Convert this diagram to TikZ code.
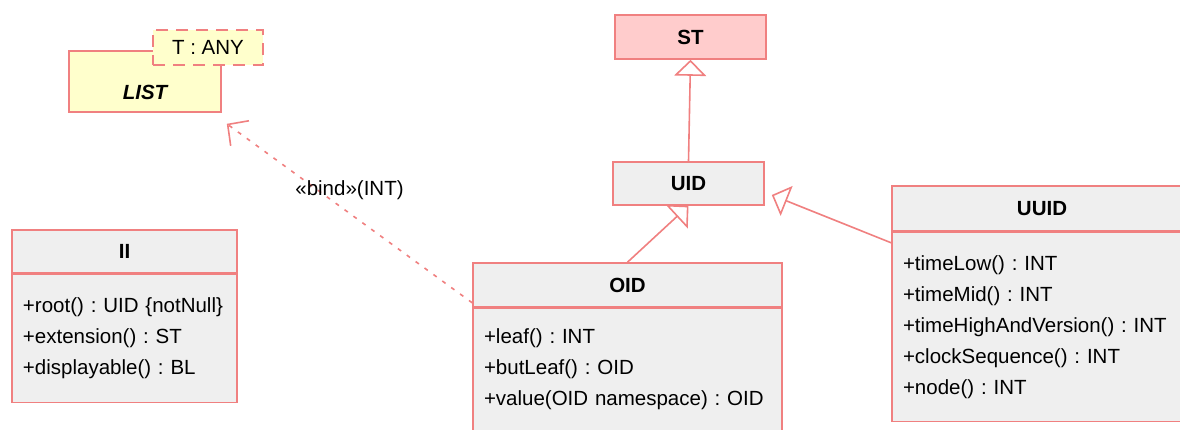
\documentclass[tikz,border=0pt]{standalone}
\usepackage{fontspec}
\setmainfont{Liberation Sans}
\usetikzlibrary{arrows.meta}
\definecolor{umlline}{RGB}{240,128,128}
\definecolor{umlgray}{RGB}{239,239,239}
\definecolor{umlpink}{RGB}{255,204,204}
\definecolor{umlyellow}{RGB}{255,255,204}
\frenchspacing
\begin{document}
\begin{tikzpicture}[x=1pt,y=-1pt]
            \tikzstyle{every node} = [font=\fontsize{20.5}{31}\selectfont, inner sep=0pt]
            \tikzstyle{cls} = [draw=umlline, line width=1.6pt, fill=umlgray]
            \tikzstyle{hdr} = [cls, font=\fontsize{20.5}{31}\selectfont\bfseries]
            \tikzstyle{body} = [cls, align=left, inner xsep=11pt, anchor=north]
            \tikzstyle{conn} = [draw=umlline, line width=1.6pt]
            \tikzstyle{gen} = [conn, -{Triangle[open, fill=white, length=16pt, width=32pt]}]
            \tikzstyle{dep} = [conn, dash pattern=on 4pt off 7pt, -{Straight Barb[length=15pt, width=31pt]}]
            \clip (0,0) rectangle (1180,429);
            \fill[white] (0,0) rectangle (1180,429);
            % generic list
            \node[cls, fill=umlyellow, minimum width=152pt, minimum height=61pt,
                  text height=38pt, text depth=3pt, font=\fontsize{20.5}{31}\selectfont\bfseries\itshape] (list) at (145,81.5) {LIST};
            \node[cls, fill=umlyellow, dash pattern=on 12pt off 8pt, minimum width=110pt, minimum height=35pt] (param) at (208,47.5) {T : ANY};
            % data types
            \node[hdr, fill=umlpink, minimum width=151pt, minimum height=44pt] (st) at (690.5,37) {ST};
            \node[hdr, minimum width=151pt, minimum height=43pt] (uid) at (688.5,183.5) {UID};
            \node[hdr, minimum width=225pt, minimum height=43pt] (iih) at (124.5,251.5) {II};
            \node[body, minimum width=225pt, text width=203pt, minimum height=128pt] (iib) at (iih.south)
                {+root() : UID \{notNull\}\\+extension() : ST\\+displayable() : BL};
            \node[hdr, minimum width=309pt, minimum height=44pt] (oidh) at (627.5,285) {OID};
            \node[body, minimum width=309pt, text width=287pt, minimum height=122pt] (oidb) at (oidh.south)
                {+leaf() : INT\\+butLeaf() : OID\\+value(OID namespace) : OID};
            \node[hdr, minimum width=300pt, minimum height=45pt] (uuidh) at (1042,208.5) {UUID};
            \node[body, minimum width=300pt, text width=278pt, minimum height=189pt] (uuidb) at (uuidh.south)
                {+timeLow() : INT\\+timeMid() : INT\\+timeHighAndVersion() : INT\\+clockSequence() : INT\\+node() : INT};
            % relations
            \draw[gen] (uid.north) -- (st.south);
            \draw[gen] (oidh.north) -- (uid.south);
            \draw[gen] ([yshift=-11pt]uuidb.north west) -- ([shift={(7pt,-11.5pt)}]uid.east);
            \draw[dep] ([yshift=5pt]oidh.south west) -- ([shift={(5pt,-11pt)}]list.south east)
                node[midway, above=13pt] {«bind»(INT)};
        \end{tikzpicture}
\end{document}
